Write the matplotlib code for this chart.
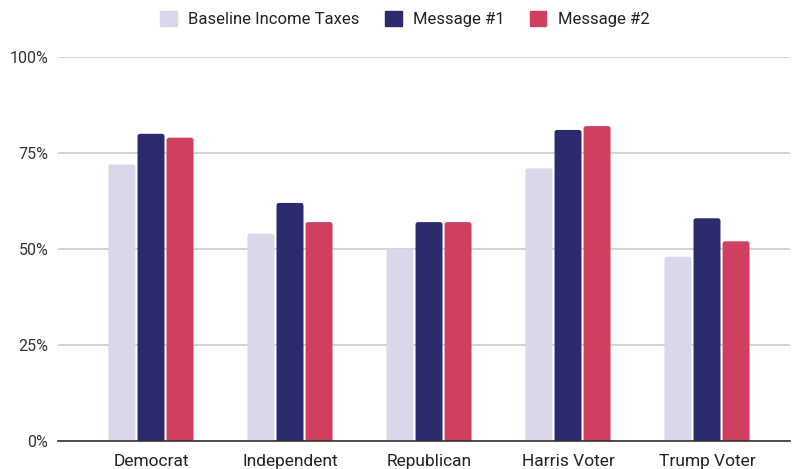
import matplotlib
matplotlib.use("Agg")
import matplotlib.pyplot as plt
from matplotlib.patches import FancyBboxPatch
import numpy as np

plt.rcParams['font.family'] = ['Roboto', 'DejaVu Sans']

categories = ["Democrat", "Independent", "Republican", "Harris Voter", "Trump Voter"]
series_names = ["Baseline Income Taxes", "Message #1", "Message #2"]
baseline = [72, 54, 50, 71, 48]
message1 = [80, 62, 57, 81, 58]
message2 = [79, 57, 57, 82, 52]
colors = ["#d9d7ea", "#2b2a6c", "#d13f5f"]
yticks = [0, 25, 50, 75, 100]
ytick_labels = ["0%", "25%", "50%", "75%", "100%"]

fig = plt.figure(figsize=(7.95, 4.69), dpi=100)
ax = fig.add_axes([58/795, 1-441/469, (790-58)/795, (441-57)/469])

ax.set_ylim(0, 100)
ax.set_xlim(-0.669, 4.597)

x = np.arange(len(categories))
w = 0.194
off = 0.209
# pixel scales for rounded corners
px_x = (4.597 + 0.669) / (790 - 58)
px_y = 100 / (441 - 57)
r = 2.5 * px_x
for i, (vals, name) in enumerate(zip([baseline, message1, message2], series_names)):
    bars = ax.bar(x + (i-1)*off, vals, width=w, color=colors[i], label=name, zorder=3)
    for b in bars:
        b.set_visible(False)
        fb = FancyBboxPatch((b.get_x(), -2), b.get_width(), b.get_height() + 2,
                            boxstyle=f"round,pad=0,rounding_size={r}",
                            mutation_aspect=px_y / px_x,
                            facecolor=colors[i], edgecolor="none", zorder=3)
        ax.add_patch(fb)

ax.set_yticks(yticks)
ax.set_yticklabels(ytick_labels, fontsize=11.5, color="#333333")
ax.set_xticks(x)
ax.set_xticklabels(categories, fontsize=12.5, color="#222222")
ax.tick_params(axis='both', length=0)
ax.tick_params(axis='y', pad=7)
ax.tick_params(axis='x', pad=9)
ax.yaxis.grid(True, color="#cccccc", linewidth=1.2, zorder=0)
for s in ["top", "right", "left"]:
    ax.spines[s].set_visible(False)
ax.spines["bottom"].set_color("#333333")
ax.spines["bottom"].set_linewidth(1.2)
ax.spines["bottom"].set_zorder(4)

handles = [plt.Rectangle((0, 0), 1, 1, color=c) for c in colors]
fig.legend(handles, series_names, loc="center", bbox_to_anchor=(405/795, 1-19/469), ncol=3,
           frameon=False, fontsize=12, handlelength=1.0, handleheight=1.0,
           handletextpad=0.7, columnspacing=1.5, labelcolor="#222222")

fig.savefig("out.png", dpi=100)
